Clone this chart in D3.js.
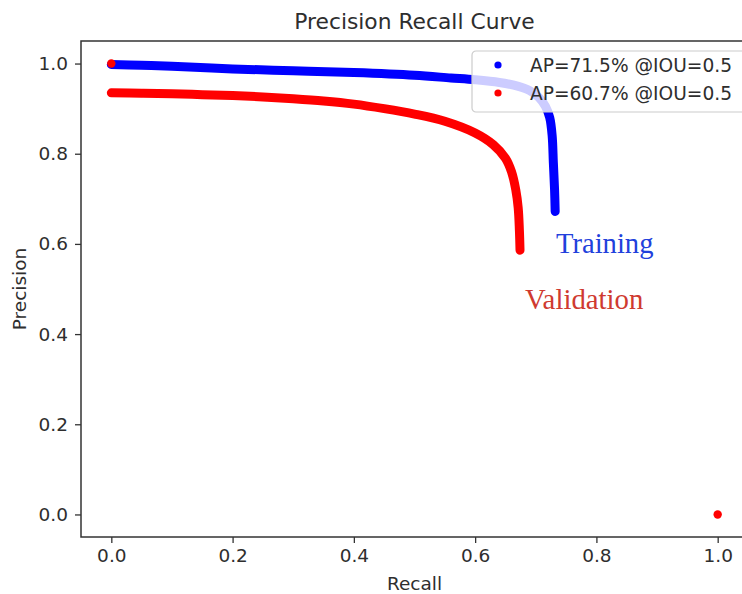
<!DOCTYPE html>
<html>
<head>
<meta charset="utf-8">
<script src="https://cdn.jsdelivr.net/npm/d3@7"></script>
<style>
  body { margin: 0; background: #fff; overflow: hidden; }
  svg { display: block; font-family: "DejaVu Sans", sans-serif; }
</style>
</head>
<body>
<div id="chart"></div>
<script>
// data
const ticks = [0, 0.2, 0.4, 0.6, 0.8, 1.0];

const trainRecall    = [0, 0.05, 0.1, 0.2, 0.3, 0.4, 0.5, 0.56, 0.6, 0.64, 0.67, 0.69, 0.705, 0.716, 0.723, 0.727, 0.729, 0.731, 0.732];
const trainPrecision = [0.998, 0.996, 0.994, 0.988, 0.984, 0.980, 0.974, 0.968, 0.964, 0.958, 0.950, 0.940, 0.925, 0.905, 0.880, 0.840, 0.780, 0.720, 0.672];

const valRecall    = [0, 0.05, 0.1, 0.15, 0.2, 0.25, 0.3, 0.35, 0.4, 0.45, 0.5, 0.55, 0.6, 0.63, 0.65, 0.66, 0.667, 0.671, 0.673, 0.674];
const valPrecision = [0.935, 0.934, 0.933, 0.931, 0.929, 0.926, 0.922, 0.917, 0.910, 0.900, 0.888, 0.872, 0.846, 0.820, 0.790, 0.760, 0.720, 0.680, 0.630, 0.586];

// stray validation points at the ends
const valDotRecall    = [0, 1];
const valDotPrecision = [1, 0];

const legendLabels = ["AP=71.5% @IOU=0.5", "AP=60.7% @IOU=0.5"];
const seriesColors = ["#0000ff", "#ff0000"];

const W = 742, H = 594;
const margin = { top: 41, right: -6, bottom: 57, left: 81 };
const innerW = W - margin.left - margin.right,
      innerH = H - margin.top - margin.bottom;

const svg = d3.select("#chart").append("svg")
    .attr("width", W)
    .attr("height", H);

const g = svg.append("g")
    .attr("transform", "translate(" + margin.left + "," + margin.top + ")");

const x = d3.scaleLinear().domain([-0.05, 1.05]).range([0, innerW]);
const y = d3.scaleLinear().domain([-0.05, 1.05]).range([innerH, 0]);

// axes
const xAxis = g.append("g")
    .attr("transform", "translate(0," + innerH + ")")
    .call(d3.axisBottom(x).tickValues(ticks).tickFormat(d3.format(".1f")).tickSize(6).tickPadding(6));
const yAxis = g.append("g")
    .call(d3.axisLeft(y).tickValues(ticks).tickFormat(d3.format(".1f")).tickSize(6).tickPadding(7));

[xAxis, yAxis].forEach(function(a) {
  a.select(".domain").remove();
  a.selectAll(".tick line").attr("stroke", "#333").attr("stroke-width", 1.3);
  a.selectAll(".tick text").attr("fill", "#2e2e2e").style("font-size", "18.5px").style("font-family", "DejaVu Sans");
});

// frame
g.append("rect")
    .attr("width", innerW)
    .attr("height", innerH)
    .attr("fill", "none")
    .attr("stroke", "#333")
    .attr("stroke-width", 1.5);

const line = d3.line()
    .x(function(d) { return x(d[0]); })
    .y(function(d) { return y(d[1]); })
    .curve(d3.curveCatmullRom.alpha(0.5));

g.append("path")
    .datum(d3.zip(trainRecall, trainPrecision))
    .attr("d", line)
    .attr("fill", "none")
    .attr("stroke", seriesColors[0])
    .attr("stroke-width", 9)
    .attr("stroke-linecap", "round")
    .attr("stroke-linejoin", "round");

g.append("path")
    .datum(d3.zip(valRecall, valPrecision))
    .attr("d", line)
    .attr("fill", "none")
    .attr("stroke", seriesColors[1])
    .attr("stroke-width", 9)
    .attr("stroke-linecap", "round")
    .attr("stroke-linejoin", "round");

g.selectAll(".valdot")
    .data(d3.zip(valDotRecall, valDotPrecision))
    .enter().append("circle")
    .attr("class", "valdot")
    .attr("cx", function(d) { return x(d[0]); })
    .attr("cy", function(d) { return y(d[1]); })
    .attr("r", 4.2)
    .attr("fill", seriesColors[1]);

// legend
const leg = svg.append("g").attr("transform", "translate(472,51)");
leg.append("rect")
    .attr("width", 280)
    .attr("height", 61)
    .attr("rx", 4)
    .attr("fill", "#fff")
    .attr("fill-opacity", 0.8)
    .attr("stroke", "#ccc")
    .attr("stroke-width", 1.2);
legendLabels.forEach(function(t, i) {
  leg.append("circle")
      .attr("cx", 26)
      .attr("cy", 14 + i * 28)
      .attr("r", 3.6)
      .attr("fill", seriesColors[i]);
  leg.append("text")
      .attr("x", 58)
      .attr("y", 14 + i * 28)
      .attr("dy", "0.36em")
      .attr("fill", "#2e2e2e")
      .style("font-size", "18.6px")
      .text(t);
});

// titles
svg.append("text")
    .attr("x", margin.left + innerW / 2)
    .attr("y", 29)
    .attr("text-anchor", "middle")
    .attr("fill", "#2e2e2e")
    .style("font-size", "21.8px")
    .text("Precision Recall Curve");

svg.append("text")
    .attr("x", margin.left + innerW / 2)
    .attr("y", 590)
    .attr("text-anchor", "middle")
    .attr("fill", "#2e2e2e")
    .style("font-size", "18.5px")
    .text("Recall");

svg.append("text")
    .attr("transform", "translate(26," + (margin.top + innerH / 2) + ") rotate(-90)")
    .attr("text-anchor", "middle")
    .attr("fill", "#2e2e2e")
    .style("font-size", "18.5px")
    .text("Precision");

// hand-placed annotations
svg.append("text")
    .attr("x", 556)
    .attr("y", 253)
    .attr("fill", "#2140dc")
    .style("font-family", "Liberation Serif")
    .style("font-size", "28.6px")
    .text("Training");

svg.append("text")
    .attr("x", 525)
    .attr("y", 309)
    .attr("fill", "#cf3a30")
    .style("font-family", "Liberation Serif")
    .style("font-size", "28.8px")
    .text("Validation");
</script>
</body>
</html>
